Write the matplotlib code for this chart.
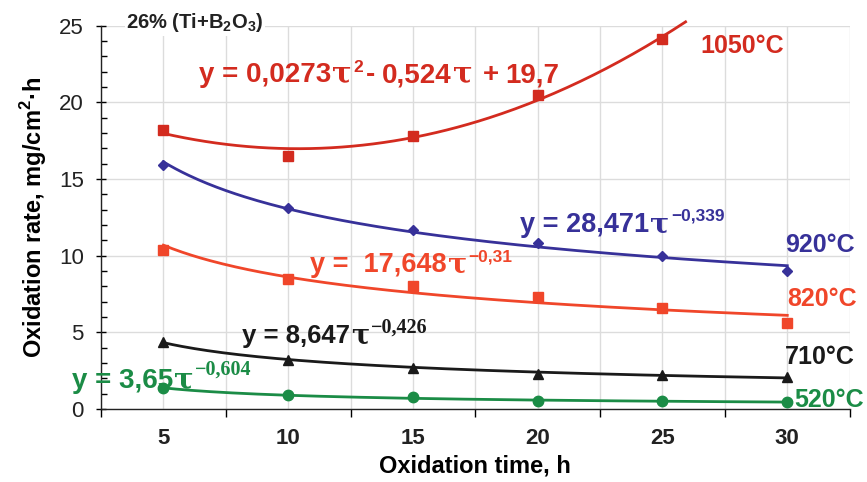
import numpy as np
import matplotlib
matplotlib.use("Agg")
import matplotlib.pyplot as plt
from matplotlib.ticker import MultipleLocator, FixedLocator

plt.rcParams['font.family'] = ['Liberation Sans', 'DejaVu Sans']
plt.rcParams['mathtext.fontset'] = 'custom'
plt.rcParams['mathtext.rm'] = 'Liberation Sans'
plt.rcParams['mathtext.bf'] = 'Liberation Sans:bold'

# data
time = np.array([5, 10, 15, 20, 25, 30])
r1050 = np.array([18.2, 16.5, 17.8, 20.5, 24.1])
r920 = np.array([15.9, 13.1, 11.7, 10.8, 10.0, 9.0])
r820 = np.array([10.4, 8.5, 8.0, 7.3, 6.6, 5.6])
r710 = np.array([4.4, 3.2, 2.7, 2.3, 2.2, 2.1])
r520 = np.array([1.35, 0.9, 0.75, 0.55, 0.5, 0.45])

c1050 = '#d32b1f'
c920 = '#373199'
c820 = '#f0462a'
c710 = '#1a1a1a'
c520 = '#1b8c46'

fig = plt.figure(figsize=(8.67, 4.82), dpi=100, facecolor='white')
ax = fig.add_axes([0.1165, 0.1515, 0.8635, 0.7952])
renderer = fig.canvas.get_renderer()

# trend lines fitted from the points
q = np.polyfit(time[:5], r1050, 2)
xend = max(np.roots(q - np.array([0, 0, 25.25])).real)
tt = np.linspace(5, xend, 200)
ax.plot(tt, np.polyval(q, tt), color=c1050, lw=2, clip_on=False, zorder=3)
ax.plot(time[:5], r1050, 's', color=c1050, ms=7, zorder=4)

tp = np.linspace(5, 30, 200)
for y, c, m, ms in [(r920, c920, 'D', 5.5), (r820, c820, 's', 7),
                    (r710, c710, '^', 7.5), (r520, c520, 'o', 7.5)]:
    b, a = np.polyfit(np.log(time), np.log(y), 1)
    ax.plot(tp, np.exp(a) * tp ** b, color=c, lw=2, zorder=3)
    ax.plot(time, y, m, color=c, ms=ms, zorder=4, clip_on=False)

ax.set_xlim(2.5, 32.5)
ax.set_ylim(0, 25)
ax.xaxis.set_major_locator(FixedLocator(time))
ax.xaxis.set_minor_locator(MultipleLocator(2.5))
ax.yaxis.set_major_locator(MultipleLocator(5))
ax.yaxis.set_minor_locator(MultipleLocator(1))
ax.tick_params(axis='x', which='major', length=0, pad=14, labelsize=16)
ax.tick_params(axis='x', which='minor', length=6, direction='out', width=1)
ax.tick_params(axis='y', which='major', length=7, direction='inout', width=1,
               labelsize=16, pad=9)
ax.tick_params(axis='y', which='minor', length=4, direction='in', width=1)
for lab in ax.get_xticklabels():
    lab.set_fontweight('bold')
    lab.set_color('#222222')
for lab in ax.get_yticklabels():
    lab.set_color('#222222')

ax.grid(True, which='major', axis='y', color='#dcdcdc', lw=1)
ax.grid(True, which='both', axis='x', color='#dcdcdc', lw=1)
ax.set_axisbelow(True)
for s in ['top', 'right']:
    ax.spines[s].set_visible(False)
for s in ['left', 'bottom']:
    ax.spines[s].set_color('#222222')
    ax.spines[s].set_linewidth(1)

ax.set_xlabel('Oxidation time, h', fontsize=17, fontweight='bold', labelpad=4)
ax.set_ylabel('Oxidation rate, mg/cm$^{\\mathbf{2}}$·h', fontsize=17,
              fontweight='bold', labelpad=7)

ax.text(3.5, 25.2, '26% (Ti+B$_{\\mathbf{2}}$O$_{\\mathbf{3}}$)', fontsize=14.5,
        fontweight='bold', color='#222222', va='center', ha='left',
        bbox=dict(facecolor='white', edgecolor='none', pad=1), clip_on=False)


def rich(x, y, pieces, color):
    # pieces: text, size, family, rise (pt), gap before (pt)
    off = 0.0
    for s, size, fam, rise, gap in pieces:
        off += gap
        t = ax.annotate(s, xy=(x, y), xytext=(off, rise), textcoords='offset points',
                        fontsize=size, family=fam, fontweight='bold', color=color,
                        va='baseline', ha='left', annotation_clip=False)
        off += t.get_window_extent(renderer).width * 72 / fig.dpi


sans = 'Liberation Sans'
serif = 'DejaVu Serif'
sup_serif = 'Liberation Serif'

rich(6.42, 21.3, [('y = 0,0273', 20, sans, 0, 0), ('τ', 21, serif, 0, 1),
                  ('2', 12.5, sans, 7.5, 1), ('-', 20, sans, 0, 2),
                  ('0,524', 20, sans, 0, 5), ('τ', 21, serif, 0, 1),
                  ('+', 20, sans, 0, 7), ('19,7', 20, sans, 0, 5)], c1050)
ax.text(26.5, 23.7, '1050°C', fontsize=18, fontweight='bold', color=c1050, va='center')

rich(19.28, 11.55, [('y = 28,471', 19.5, sans, 0, 0), ('τ', 20.5, serif, 0, 1),
                    ('−0,339', 12.5, sans, 8.4, 1)], c920)
ax.text(29.9, 10.7, '920°C', fontsize=18, fontweight='bold', color=c920, va='center')

rich(10.87, 8.94, [('y =  17,648', 19.5, sans, 0, 0), ('τ', 20.5, serif, 0, 1),
                   ('−0,31', 12.5, sans, 7.2, 1)], c820)
ax.text(30.0, 7.2, '820°C', fontsize=18, fontweight='bold', color=c820, va='center')

rich(8.13, 4.28, [('y = 8,647', 18.5, sans, 0, 0), ('τ', 19.5, serif, 0, 1),
                  ('−0,426', 14.5, sup_serif, 7.4, 1)], c710)
ax.text(29.9, 3.4, '710°C', fontsize=18, fontweight='bold', color=c710, va='center')

rich(1.33, 1.35, [('y = 3,65', 20, sans, 0, 0), ('τ', 21, serif, 0, 1),
                  ('−0,604', 14.5, sup_serif, 9.6, 1)], c520)
ax.text(30.3, 0.6, '520°C', fontsize=18, fontweight='bold', color=c520, va='center')

plt.savefig('out.png', dpi=100)
